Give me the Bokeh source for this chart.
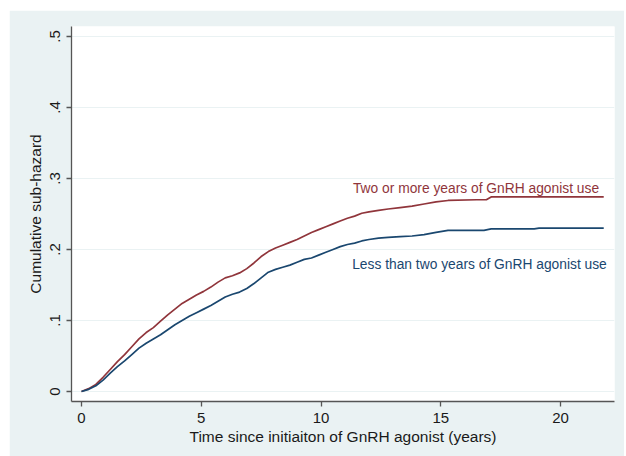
from bokeh.plotting import figure
from bokeh.models import Range1d, Label, FixedTicker, Spacer
from bokeh.layouts import row, column
from bokeh.embed import file_html
from bokeh.resources import INLINE

# ---- data ----
t_two = [0.0, 0.3, 0.6, 0.9, 1.2, 1.5, 1.8, 2.1, 2.4, 2.7, 3.0, 3.3, 3.6, 3.9, 4.2, 4.5, 4.8,
         5.1, 5.4, 5.7, 6.0, 6.3, 6.6, 6.9, 7.2, 7.5, 7.8, 8.1, 8.4, 8.7, 9.0, 9.3, 9.6, 9.9,
         10.2, 10.5, 10.8, 11.1, 11.4, 11.7, 12.0, 12.4, 12.8, 13.3, 13.8, 14.3, 14.8, 15.3,
         16.5, 16.9, 17.1, 21.8]
v_two = [0.000, 0.004, 0.010, 0.020, 0.031, 0.042, 0.052, 0.063, 0.074, 0.083, 0.090, 0.099,
         0.108, 0.116, 0.124, 0.130, 0.136, 0.141, 0.147, 0.154, 0.160, 0.163, 0.167, 0.173,
         0.181, 0.190, 0.197, 0.202, 0.206, 0.210, 0.214, 0.219, 0.224, 0.228, 0.232, 0.236,
         0.240, 0.244, 0.247, 0.251, 0.253, 0.255, 0.257, 0.259, 0.261, 0.264, 0.267, 0.269,
         0.270, 0.270, 0.274, 0.274]

t_less = [0.0, 0.3, 0.6, 0.9, 1.2, 1.5, 1.8, 2.1, 2.4, 2.7, 3.0, 3.3, 3.6, 3.9, 4.2, 4.5, 4.8,
          5.1, 5.4, 5.7, 6.0, 6.3, 6.6, 6.9, 7.2, 7.5, 7.8, 8.1, 8.4, 8.7, 9.0, 9.3, 9.6, 9.9,
          10.2, 10.5, 10.8, 11.1, 11.4, 11.7, 12.0, 12.4, 12.8, 13.3, 13.8, 14.3, 14.8, 15.3,
          16.8, 17.1, 18.9, 19.1, 21.8]
v_less = [0.000, 0.003, 0.008, 0.016, 0.026, 0.035, 0.043, 0.052, 0.061, 0.068, 0.074, 0.080,
          0.087, 0.094, 0.100, 0.106, 0.111, 0.116, 0.121, 0.127, 0.133, 0.137, 0.140, 0.145,
          0.152, 0.160, 0.168, 0.172, 0.175, 0.178, 0.182, 0.186, 0.188, 0.192, 0.196, 0.200,
          0.204, 0.207, 0.209, 0.212, 0.214, 0.216, 0.217, 0.218, 0.219, 0.221, 0.224, 0.227,
          0.227, 0.229, 0.229, 0.230, 0.230]

x_ticks = [0, 5, 10, 15, 20]
y_ticks = [0, 0.1, 0.2, 0.3, 0.4, 0.5]
y_tick_labels = ["0", ".1", ".2", ".3", ".4", ".5"]

label_two = "Two or more years of GnRH agonist use"
label_less = "Less than two years of GnRH agonist use"
x_title = "Time since initiaiton of GnRH agonist (years)"
y_title = "Cumulative sub-hazard"

RED = "#90353b"
BLUE = "#1a476f"
BG = "#eaf2f3"
FONT = "Liberation Sans"

p = figure(width=615, height=446, output_backend="svg", toolbar_location=None,
           x_range=Range1d(-0.417, 22.25), y_range=Range1d(-0.0141, 0.514),
           min_border_left=62, min_border_right=10, min_border_top=16, min_border_bottom=55)
p.border_fill_color = BG
p.background_fill_color = "white"
p.outline_line_color = None

p.line(t_two, v_two, line_color=RED, line_width=1.7)
p.line(t_less, v_less, line_color=BLUE, line_width=1.7)

p.add_layout(Label(x=11.33, y=0.2855, text=label_two, text_color=RED, text_font=FONT,
                   text_font_size="13.8px", text_baseline="alphabetic"))
p.add_layout(Label(x=11.3, y=0.179, text=label_less, text_color=BLUE, text_font=FONT,
                   text_font_size="13.8px", text_baseline="alphabetic"))

# grid
p.xgrid.grid_line_color = None
p.ygrid.grid_line_color = BG
p.ygrid.ticker = FixedTicker(ticks=y_ticks)

# axes
for ax in (p.xaxis[0], p.yaxis[0]):
    ax.axis_line_color = "#555555"
    ax.axis_line_width = 1.3
    ax.major_tick_line_color = "#555555"
    ax.major_tick_line_width = 1.3
    ax.major_tick_in = 0
    ax.major_tick_out = 5
    ax.minor_tick_line_color = None
    ax.major_label_text_font = FONT
    ax.major_label_text_font_size = "15px"
    ax.major_label_text_color = "#1a1a1a"
    ax.axis_label_text_font = FONT
    ax.axis_label_text_font_size = "15.5px"
    ax.axis_label_text_font_style = "normal"
    ax.axis_label_text_color = "#1a1a1a"

p.xaxis.ticker = FixedTicker(ticks=x_ticks)
p.xaxis.axis_label = x_title
p.xaxis.major_label_standoff = 6
p.xaxis.axis_label_standoff = 2

p.yaxis.ticker = FixedTicker(ticks=y_ticks)
p.yaxis.major_label_overrides = {t: s for t, s in zip(y_ticks, y_tick_labels)}
p.yaxis.major_label_orientation = "vertical"
p.yaxis.axis_label = y_title
p.yaxis.major_label_standoff = 6
p.yaxis.axis_label_standoff = 4

layout = row(Spacer(width=9), column(Spacer(height=10), p))
open("out.html", "w").write(file_html(layout, INLINE))
